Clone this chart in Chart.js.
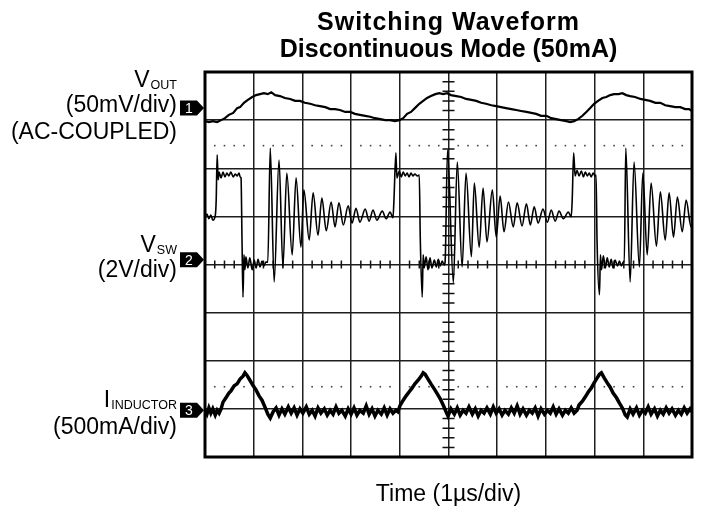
<!DOCTYPE html>
<html><head><meta charset="utf-8">
<script src="https://cdn.jsdelivr.net/npm/chart.js@4/dist/chart.umd.min.js"></script>
<style>html,body{margin:0;padding:0;background:#fff;}#wrap{width:702px;height:508px;position:relative;}</style>
</head><body><div id="wrap"><canvas id="c" width="702" height="508"></canvas></div>
<script>
// ---- data (x: time in µs, 1 µs/div; y: screen divisions, 0 = bottom, 8 = top) ----
const titleLines = ['Switching Waveform', 'Discontinuous Mode (50mA)'];
const xAxisTitle = 'Time (1µs/div)';
const timeRange = [0, 10];
const divRange = [0, 8];
const channelNumbers = ['1', '2', '3'];
const channelRefs = [7.25, 4.1, 0.97];
const channelNames = [['V', 'OUT'], ['V', 'SW'], ['I', 'INDUCTOR']];
const channelScales = [['(50mV/div)', '(AC-COUPLED)'], ['(2V/div)'], ['(500mA/div)']];
const dottedLevels = [6.47, 1.46];

const vout = [[0,6.98],[0.08,6.96],[0.16,6.98],[0.25,6.96],[0.33,7.00],[0.41,7.04],[0.49,7.11],[0.58,7.15],[0.66,7.25],[0.72,7.27],[0.80,7.36],[0.88,7.42],[0.97,7.48],[1.05,7.52],[1.13,7.54],[1.21,7.56],[1.29,7.54],[1.36,7.58],[1.44,7.52],[1.54,7.50],[1.64,7.46],[1.75,7.44],[1.85,7.40],[1.95,7.40],[2.05,7.36],[2.16,7.34],[2.26,7.31],[2.36,7.29],[2.47,7.27],[2.57,7.23],[2.67,7.23],[2.77,7.21],[2.88,7.17],[2.98,7.17],[3.08,7.13],[3.18,7.11],[3.29,7.09],[3.39,7.07],[3.49,7.04],[3.60,7.02],[3.70,7.00],[3.80,7.00],[3.90,6.98],[3.99,7.00],[4.07,7.04],[4.15,7.13],[4.23,7.17],[4.31,7.25],[4.40,7.34],[4.48,7.40],[4.56,7.46],[4.64,7.50],[4.73,7.54],[4.81,7.56],[4.89,7.54],[4.97,7.56],[5.05,7.52],[5.16,7.50],[5.26,7.48],[5.36,7.44],[5.47,7.42],[5.57,7.40],[5.67,7.36],[5.77,7.34],[5.88,7.31],[5.98,7.29],[6.08,7.27],[6.18,7.25],[6.29,7.23],[6.39,7.21],[6.49,7.19],[6.60,7.17],[6.70,7.15],[6.80,7.13],[6.90,7.09],[7.01,7.09],[7.11,7.04],[7.21,7.02],[7.31,7.00],[7.42,6.98],[7.50,6.96],[7.58,6.98],[7.66,7.02],[7.75,7.09],[7.83,7.17],[7.91,7.25],[7.99,7.34],[8.07,7.40],[8.16,7.46],[8.24,7.48],[8.32,7.52],[8.40,7.54],[8.49,7.54],[8.57,7.56],[8.65,7.52],[8.73,7.50],[8.83,7.48],[8.94,7.44],[9.04,7.42],[9.14,7.40],[9.25,7.36],[9.35,7.36],[9.45,7.31],[9.55,7.29],[9.66,7.27],[9.76,7.27],[9.86,7.23],[9.94,7.23],[10,7.19]];

const vsw = [[0,4.99],[0.04,5.05],[0.08,4.95],[0.12,5.03],[0.16,4.92],[0.21,5.01],
 [0.23,5.34],[0.25,6.28],[0.27,5.76],[0.29,5.92],[0.33,5.80],[0.37,5.92],[0.41,5.82],[0.45,5.90],[0.49,5.84],[0.53,5.92],[0.58,5.82],[0.62,5.88],[0.66,5.84],[0.70,5.90],[0.72,5.82],
 [0.74,5.80],[0.76,4.51],[0.78,3.32],[0.80,4.20],[0.82,3.89],[0.84,4.16],[0.88,3.93],[0.92,4.14],[0.97,3.89],[1.01,4.09],[1.05,3.93],[1.09,4.11],[1.13,3.95],[1.17,4.07],[1.21,3.97],[1.25,4.05],
 [1.29,4.05],[1.34,6.42],[1.42,3.64],[1.52,6.17],[1.60,3.95],[1.68,5.90],[1.79,4.20],[1.87,5.80],[1.97,4.36],[2.03,5.55],[2.14,4.51],[2.22,5.49],[2.32,4.61],[2.40,5.38],[2.49,4.70],[2.59,5.30],[2.67,4.78],[2.75,5.28],[2.84,4.82],[2.94,5.22],[3.02,4.86],[3.10,5.17],[3.18,4.88],[3.29,5.15],[3.37,4.90],[3.45,5.13],[3.53,4.92],[3.64,5.11],[3.72,4.95],[3.80,5.09],[3.86,4.97],
 [3.88,5.34],[3.92,6.32],[3.94,5.80],[3.99,5.94],[4.03,5.82],[4.07,5.92],[4.11,5.84],[4.15,5.90],[4.19,5.82],[4.23,5.90],[4.27,5.84],[4.31,5.88],[4.36,5.84],[4.40,5.86],
 [4.42,4.57],[4.46,3.32],[4.48,4.20],[4.50,3.93],[4.54,4.16],[4.58,3.89],[4.62,4.14],[4.66,3.93],[4.71,4.09],[4.75,3.95],[4.79,4.11],[4.83,3.97],[4.87,4.07],[4.91,3.99],
 [4.93,4.05],[4.98,6.38],[5.10,3.62],[5.18,6.13],[5.28,3.95],[5.36,5.90],[5.47,4.16],[5.53,5.69],[5.63,4.36],[5.71,5.59],[5.79,4.47],[5.90,5.55],[5.98,4.57],[6.06,5.42],[6.14,4.68],[6.23,5.30],[6.33,4.78],[6.41,5.28],[6.51,4.80],[6.60,5.26],[6.68,4.82],[6.76,5.20],[6.84,4.86],[6.94,5.15],[7.03,4.88],[7.11,5.13],[7.19,4.90],[7.27,5.11],[7.36,4.95],[7.46,5.09],[7.52,4.99],
 [7.54,5.34],[7.57,6.32],[7.60,5.84],[7.64,5.96],[7.68,5.84],[7.73,5.94],[7.77,5.82],[7.81,5.92],[7.85,5.84],[7.89,5.90],[7.93,5.82],[7.97,5.90],[8.01,5.84],[8.03,5.86],
 [8.05,4.51],[8.10,3.37],[8.12,4.20],[8.14,3.89],[8.18,4.18],[8.22,3.93],[8.26,4.14],[8.30,3.95],[8.34,4.11],[8.38,3.93],[8.42,4.09],[8.47,3.97],[8.51,4.07],[8.55,3.97],[8.59,4.05],
 [8.61,4.05],[8.64,6.42],[8.73,3.64],[8.81,6.13],[8.92,3.95],[8.99,5.90],[9.08,4.20],[9.16,5.69],[9.27,4.38],[9.35,5.51],[9.45,4.51],[9.53,5.49],[9.62,4.57],[9.70,5.40],[9.80,4.68],[9.88,5.34],[9.98,4.78],[10,4.88]];

const iInductor = [[0,0.97],[0.04,0.89],[0.08,1.02],[0.12,0.91],[0.16,1.00],[0.21,0.87],[0.25,0.97],[0.29,0.91],[0.33,1.00],
 [0.37,1.14],[0.43,1.23],[0.49,1.33],[0.53,1.37],[0.60,1.48],[0.66,1.52],[0.72,1.62],[0.78,1.68],[0.82,1.75],[0.86,1.70],[0.92,1.60],[0.99,1.48],[1.05,1.39],[1.11,1.27],[1.17,1.18],[1.23,1.04],[1.29,0.89],[1.34,0.81],[1.40,0.94],
 [1.46,1.02],[1.52,0.87],[1.58,1.00],[1.64,0.89],[1.71,1.04],[1.77,0.91],[1.83,1.02],[1.89,0.87],[1.95,1.00],[2.01,0.91],[2.08,1.04],[2.14,0.89],[2.20,0.97],[2.26,0.85],[2.32,1.02],[2.38,0.91],[2.45,1.00],[2.51,0.87],[2.57,0.97],[2.63,0.89],[2.69,1.04],[2.75,0.91],[2.81,0.97],[2.88,0.85],[2.94,1.00],[3.00,0.89],[3.06,1.02],[3.12,0.87],[3.18,0.97],[3.25,0.91],[3.31,1.06],[3.37,0.89],[3.43,1.00],[3.49,0.85],[3.55,0.97],[3.62,0.89],[3.68,1.02],[3.74,0.87],[3.80,1.00],[3.86,0.91],[3.92,0.97],[3.96,0.94],
 [4.01,1.08],[4.07,1.18],[4.13,1.27],[4.19,1.35],[4.25,1.43],[4.31,1.52],[4.38,1.60],[4.44,1.68],[4.48,1.75],[4.52,1.72],[4.58,1.62],[4.64,1.52],[4.71,1.41],[4.77,1.31],[4.83,1.21],[4.89,1.08],[4.95,0.94],[4.99,0.85],
 [5.05,1.00],[5.12,0.89],[5.18,1.02],[5.24,0.87],[5.30,0.97],[5.36,0.91],[5.42,1.04],[5.49,0.89],[5.55,1.00],[5.61,0.85],[5.67,0.97],[5.73,0.91],[5.79,1.02],[5.86,0.89],[5.92,1.04],[5.98,0.91],[6.04,1.00],[6.10,0.87],[6.16,0.97],[6.23,0.89],[6.29,1.02],[6.35,0.91],[6.41,1.06],[6.47,0.89],[6.53,1.00],[6.60,0.87],[6.66,0.97],[6.72,0.91],[6.78,1.02],[6.84,0.85],[6.90,1.00],[6.97,0.89],[7.03,0.97],[7.09,0.91],[7.15,1.04],[7.21,0.89],[7.27,1.00],[7.34,0.87],[7.40,0.97],[7.46,0.91],[7.52,1.02],[7.58,0.91],[7.64,0.97],
 [7.68,1.08],[7.75,1.16],[7.81,1.25],[7.87,1.35],[7.93,1.43],[7.99,1.54],[8.05,1.64],[8.10,1.72],[8.14,1.75],[8.20,1.64],[8.26,1.54],[8.32,1.45],[8.38,1.33],[8.45,1.23],[8.51,1.12],[8.57,1.02],[8.63,0.87],[8.67,0.83],
 [8.73,1.00],[8.79,0.89],[8.86,1.02],[8.92,0.87],[8.98,0.97],[9.04,0.91],[9.10,1.04],[9.16,0.89],[9.23,1.00],[9.29,0.85],[9.35,0.97],[9.41,0.89],[9.47,1.02],[9.53,0.91],[9.59,1.00],[9.66,0.87],[9.72,0.97],[9.78,0.89],[9.84,1.02],[9.90,0.91],[9.96,1.00],[10,0.94]];

const toXY = arr => arr.map(([x, y]) => ({x, y}));
const FONT = '"Liberation Sans", Arial, Helvetica, sans-serif';

const scopeDecor = {
  id: 'scopeDecor',
  beforeDatasetsDraw(chart) {
    const {ctx, scales: {x, y}} = chart;
    ctx.save();
    ctx.fillStyle = '#444';
    for (const lv of dottedLevels) {
      const py = y.getPixelForValue(lv);
      for (let i = 1; i < 50; i++) {
        if (i % 5 === 0) continue;
        const px = x.getPixelForValue(i * 0.2);
        ctx.fillRect(px - 0.8, py - 0.8, 1.6, 1.6);
      }
    }
    ctx.strokeStyle = '#111'; ctx.lineWidth = 1.5;
    ctx.beginPath();
    const cx = x.getPixelForValue(5), cy = y.getPixelForValue(4);
    for (let i = 1; i < 50; i++) {
      if (i % 5 === 0) continue;
      const px = x.getPixelForValue(i * 0.2);
      ctx.moveTo(px, cy - 4); ctx.lineTo(px, cy + 4);
    }
    for (let i = 1; i < 40; i++) {
      if (i % 5 === 0) continue;
      const py = y.getPixelForValue(i * 0.2);
      ctx.moveTo(cx - 6, py); ctx.lineTo(cx + 6, py);
    }
    ctx.stroke();
    ctx.restore();
  },
  afterDraw(chart) {
    const {ctx, chartArea: a, scales: {y}} = chart;
    ctx.save();
    // frame
    ctx.strokeStyle = '#000'; ctx.lineWidth = 3;
    ctx.strokeRect(a.left, a.top, a.right - a.left, a.bottom - a.top);
    // title
    ctx.fillStyle = '#000';
    ctx.textBaseline = 'alphabetic';
    ctx.textAlign = 'center';
    ctx.font = 'bold 25px ' + FONT;
    const tcx = (a.left + a.right) / 2;
    ctx.letterSpacing = '1px';
    ctx.fillText(titleLines[0], tcx, 30);
    ctx.letterSpacing = '0px';
    ctx.fillText(titleLines[1], tcx, 57);
    // x axis title
    ctx.font = '23px ' + FONT;
    ctx.fillText(xAxisTitle, tcx, 501);
    // channel labels
    const rx = 177;
    const nameBase = [87, 252, 407];
    const scaleBase = [[112, 139], [277], [434]];
    channelNames.forEach(([main, sub], i) => {
      ctx.textAlign = 'right';
      ctx.font = '12.5px ' + FONT;
      const sw = ctx.measureText(sub).width;
      ctx.fillText(sub, rx, nameBase[i] + 2);
      ctx.font = '23px ' + FONT;
      ctx.fillText(main, rx - sw - 1, nameBase[i]);
      channelScales[i].forEach((t, j) => ctx.fillText(t, rx, scaleBase[i][j]));
    });
    // channel reference markers
    channelRefs.forEach((v, i) => {
      const py = y.getPixelForValue(v);
      const l = 180, r = 197, tip = a.left - 1;
      ctx.fillStyle = '#000';
      ctx.beginPath();
      ctx.moveTo(l, py - 7.5); ctx.lineTo(r, py - 7.5); ctx.lineTo(tip, py);
      ctx.lineTo(r, py + 7.5); ctx.lineTo(l, py + 7.5); ctx.closePath(); ctx.fill();
      ctx.fillStyle = '#fff'; ctx.textAlign = 'center'; ctx.textBaseline = 'middle';
      ctx.font = '14px ' + FONT;
      ctx.fillText(channelNumbers[i], (l + r) / 2 + 0.5, py + 1);
      ctx.textBaseline = 'alphabetic';
    });
    ctx.restore();
  }
};

const axisCommon = {
  type: 'linear',
  ticks: {display: false, stepSize: 1},
  grid: {color: '#1e1e1e', lineWidth: 1.5, drawTicks: false},
  border: {display: false}
};

new Chart(document.getElementById('c'), {
  type: 'scatter',
  data: {
    datasets: [
      {label: 'VOUT', data: toXY(vout), showLine: true, borderColor: '#000', borderWidth: 2.2, pointRadius: 0, tension: 0},
      {label: 'VSW', data: toXY(vsw), showLine: true, borderColor: '#000', borderWidth: 1.6, pointRadius: 0, cubicInterpolationMode: 'monotone'},
      {label: 'IINDUCTOR', data: toXY(iInductor), showLine: true, borderColor: '#000', borderWidth: 3.5, pointRadius: 0, tension: 0}
    ]
  },
  options: {
    responsive: false,
    animation: false,
    events: [],
    layout: {padding: {left: 205, right: 10, top: 72, bottom: 51}},
    plugins: {legend: {display: false}, tooltip: {enabled: false}, title: {display: false}},
    scales: {
      x: {...axisCommon, min: timeRange[0], max: timeRange[1], afterFit(s) { s.height = 0; }},
      y: {...axisCommon, min: divRange[0], max: divRange[1], afterFit(s) { s.width = 0; }}
    }
  },
  plugins: [scopeDecor]
});
</script>
</body></html>
